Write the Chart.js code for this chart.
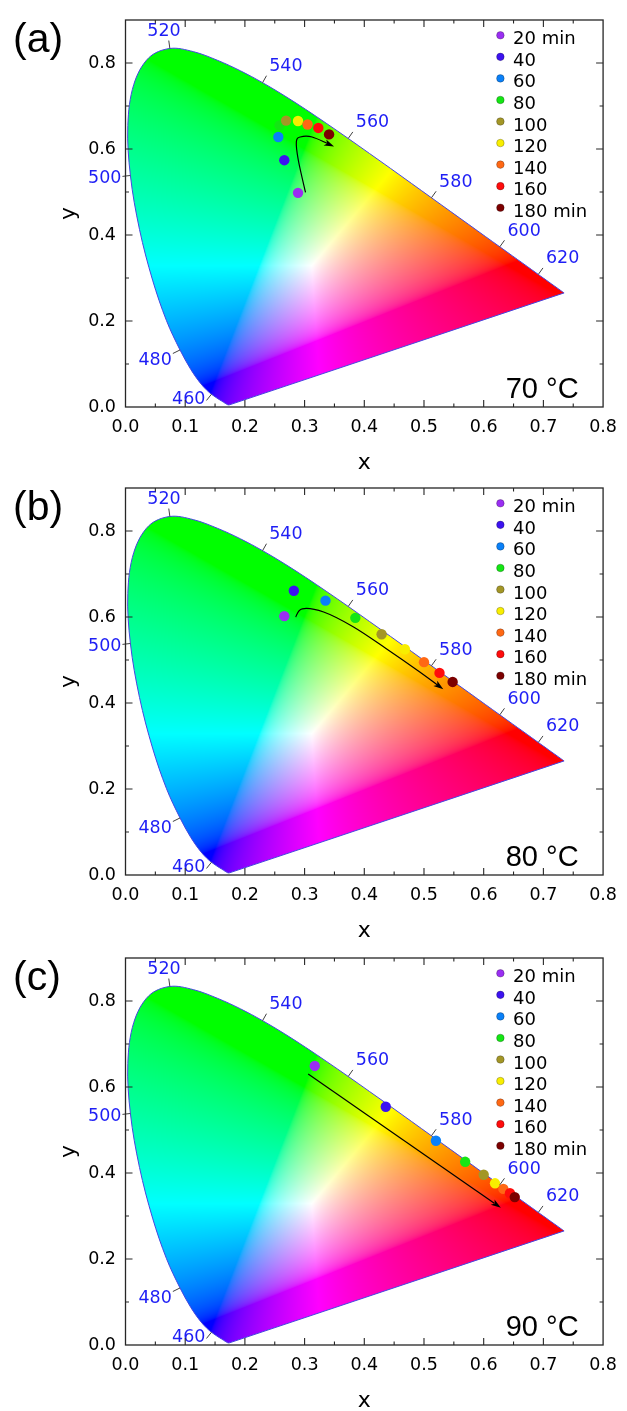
<!DOCTYPE html>
<html><head><meta charset="utf-8">
<script src="https://cdn.jsdelivr.net/npm/chart.js@4/dist/chart.umd.min.js"></script>
<style>
html,body{margin:0;padding:0;background:#fff;overflow:hidden;width:627px;height:1411px;}
.p{position:absolute;left:0;width:627px;height:480px;}
</style></head><body>
<div class="p" style="top:0px"><canvas id="c0"></canvas></div>
<div class="p" style="top:468px"><canvas id="c1"></canvas></div>
<div class="p" style="top:938px"><canvas id="c2"></canvas></div>
<script>
// ---- CIE 1931 spectral locus (5 nm) ----
const locusNm = [380,385,390,395,400,405,410,415,420,425,430,435,440,445,450,455,460,465,470,475,480,485,490,495,500,505,510,515,520,525,530,535,540,545,550,555,560,565,570,575,580,585,590,595,600,605,610,615,620,625,630,635,640,645,650,655,660,665,670,675,680,685,690,695,700];
const locusX = [0.1741,0.1740,0.1738,0.1736,0.1733,0.1730,0.1726,0.1721,0.1714,0.1703,0.1689,0.1669,0.1644,0.1611,0.1566,0.1510,0.1440,0.1355,0.1241,0.1096,0.0913,0.0687,0.0454,0.0235,0.0082,0.0039,0.0139,0.0389,0.0743,0.1142,0.1547,0.1929,0.2296,0.2658,0.3016,0.3373,0.3731,0.4087,0.4441,0.4788,0.5125,0.5448,0.5752,0.6029,0.6270,0.6482,0.6658,0.6801,0.6915,0.7006,0.7079,0.7140,0.7190,0.7230,0.7260,0.7283,0.7300,0.7311,0.7320,0.7327,0.7334,0.7340,0.7344,0.7346,0.7347];
const locusY = [0.0050,0.0050,0.0049,0.0049,0.0048,0.0048,0.0048,0.0048,0.0051,0.0058,0.0069,0.0086,0.0109,0.0138,0.0177,0.0227,0.0297,0.0399,0.0578,0.0868,0.1327,0.2007,0.2950,0.4127,0.5384,0.6548,0.7502,0.8120,0.8338,0.8262,0.8059,0.7816,0.7543,0.7243,0.6923,0.6589,0.6245,0.5896,0.5547,0.5202,0.4866,0.4544,0.4242,0.3965,0.3725,0.3514,0.3340,0.3197,0.3083,0.2993,0.2920,0.2859,0.2809,0.2770,0.2740,0.2717,0.2700,0.2689,0.2680,0.2673,0.2666,0.2660,0.2656,0.2654,0.2653];
const wlMarks = [460,480,500,520,540,560,580,600,620];

// ---- series ----
const timeLabels = ['20 min','40','60','80','100','120','140','160','180 min'];
const timeColors = ['#9a2ef2','#3c12f0','#0a80f8','#14e614','#a39626','#f8ee00','#ff6814','#ff0c0c','#7c0000'];

const xA = [0.289,0.266,0.256,0.258,0.269,0.289,0.305,0.323,0.341];
const yA = [0.498,0.574,0.628,0.655,0.666,0.665,0.657,0.649,0.634];
const xB = [0.266,0.282,0.335,0.385,0.429,0.468,0.500,0.526,0.548];
const yB = [0.602,0.661,0.638,0.598,0.560,0.525,0.495,0.470,0.449];
const xC = [0.317,0.436,0.520,0.569,0.600,0.619,0.633,0.644,0.652];
const yC = [0.649,0.554,0.475,0.426,0.396,0.376,0.363,0.353,0.344];

// arrow guide points (data coordinates)
const arrowAx = [0.3015,0.2895,0.2862,0.2928,0.3126,0.3494];
const arrowAy = [0.4991,0.5738,0.6166,0.6280,0.6280,0.6058];
const arrowBx = [0.2850,0.2961,0.3319,0.3813,0.4363,0.4912,0.5324];
const arrowBy = [0.6000,0.6191,0.6115,0.5772,0.5268,0.4739,0.4318];
const arrowCx = [0.306,0.6288];
const arrowCy = [0.630,0.3191];

const temps = ['70 °C','80 °C','90 °C'];
const panelTags = ['(a)','(b)','(c)'];

// ---- styles ----
const FONT = "'DejaVu Sans', sans-serif";
const FONT2 = "'Liberation Sans', Arial, sans-serif";
const wlColor = '#1e1ef5';
const frameColor = '#262626';
Chart.defaults.font.family = FONT;

function xyToRGB(x, y) {
  if (y <= 1e-4) return [0,0,0];
  const X = x / y, Z = (1 - x - y) / y;
  let r = 3.2406*X - 1.5372 - 0.4986*Z;
  let g = -0.9689*X + 1.8758 + 0.0415*Z;
  let b = 0.0557*X - 0.2040 + 1.0570*Z;
  r = Math.max(r,0); g = Math.max(g,0); b = Math.max(b,0);
  const m = Math.max(r,g,b) || 1;
  const enc = v => v <= 0.0031308 ? 12.92*v : 1.055*Math.pow(v,1/2.4) - 0.055;
  return [enc(r/m)*255, enc(g/m)*255, enc(b/m)*255];
}

function buildFill(chart) {
  const a = chart.chartArea, sx = chart.scales.x, sy = chart.scales.y;
  const dpr = chart.currentDevicePixelRatio || 1;
  const W = Math.max(1, Math.round(a.width*dpr)), H = Math.max(1, Math.round(a.height*dpr));
  const off = document.createElement('canvas'); off.width = W; off.height = H;
  const octx = off.getContext('2d');
  const img = octx.createImageData(W, H);
  const xs = new Float64Array(W), ys = new Float64Array(H);
  for (let i = 0; i < W; i++) xs[i] = sx.getValueForPixel(a.left + (i+0.5)/dpr);
  for (let j = 0; j < H; j++) ys[j] = sy.getValueForPixel(a.top + (j+0.5)/dpr);
  let k = 0;
  for (let j = 0; j < H; j++) {
    for (let i = 0; i < W; i++) {
      const c = xyToRGB(xs[i], ys[j]);
      img.data[k++] = c[0]; img.data[k++] = c[1]; img.data[k++] = c[2]; img.data[k++] = 255;
    }
  }
  octx.putImageData(img, 0, 0);
  return off;
}

// smooth spectral-locus path through the scale pixels (closed by the purple line)
function locusPath(ctx, sx, sy) {
  const P = locusX.map((vx, i) => ({x: sx.getPixelForValue(vx), y: sy.getPixelForValue(locusY[i])}));
  const n = P.length, t = 0.35;
  const cps = P.map((cur, i) => {
    const prev = P[Math.max(0, i-1)], next = P[Math.min(n-1, i+1)];
    const d01 = Math.hypot(cur.x-prev.x, cur.y-prev.y), d12 = Math.hypot(next.x-cur.x, next.y-cur.y);
    const sum = (d01 + d12) || 1;
    const fa = t*d01/sum, fb = t*d12/sum;
    return {px: cur.x - fa*(next.x-prev.x), py: cur.y - fa*(next.y-prev.y),
            nx: cur.x + fb*(next.x-prev.x), ny: cur.y + fb*(next.y-prev.y)};
  });
  ctx.moveTo(P[0].x, P[0].y);
  for (let i = 1; i < n; i++) ctx.bezierCurveTo(cps[i-1].nx, cps[i-1].ny, cps[i].px, cps[i].py, P[i].x, P[i].y);
  ctx.closePath();
}

const cieFill = {
  id: 'cieFill',
  beforeDatasetsDraw(chart) {
    const {ctx, chartArea: a, scales: {x: sx, y: sy}} = chart;
    const key = [a.left,a.top,a.width,a.height,chart.currentDevicePixelRatio].join(',');
    if (chart.$cieKey !== key) { chart.$cieImg = buildFill(chart); chart.$cieKey = key; }
    ctx.save();
    ctx.beginPath();
    locusPath(ctx, sx, sy);
    ctx.clip();
    ctx.drawImage(chart.$cieImg, a.left, a.top, a.width, a.height);
    ctx.restore();
    ctx.save();
    ctx.beginPath();
    locusPath(ctx, sx, sy);
    ctx.strokeStyle = '#4646e0'; ctx.lineWidth = 1;
    ctx.stroke();
    ctx.restore();
  }
};

function clamp1(v) { return Math.max(-1, Math.min(1, v)); }

function overlayPlugin(p) {
  return {
    id: 'overlay' + p.id,
    afterDatasetsDraw(chart) {
      const {ctx, chartArea: a, scales: {x: sx, y: sy}} = chart;
      const pix = i => ({x: sx.getPixelForValue(locusX[i]), y: sy.getPixelForValue(locusY[i])});
      ctx.save();

      // wavelength marks
      ctx.font = '17.5px ' + FONT;
      wlMarks.forEach(nm => {
        const i = locusNm.indexOf(nm);
        const P = pix(i), Pm = pix(i-1), Pp = pix(i+1);
        let tx = Pp.x - Pm.x, ty = Pp.y - Pm.y;
        const L = Math.hypot(tx, ty); tx /= L; ty /= L;
        const nx = ty, ny = -tx;
        const E = {x: P.x + 8*nx, y: P.y + 8*ny};
        ctx.strokeStyle = '#404040'; ctx.lineWidth = 1;
        ctx.beginPath(); ctx.moveTo(P.x, P.y); ctx.lineTo(E.x, E.y); ctx.stroke();
        const txt = String(nm);
        const w = ctx.measureText(txt).width;
        let cx = E.x + clamp1(2*nx)*(w/2 + (nx > 0 ? 3 : 1));
        let cy = E.y + clamp1(2*ny)*(ny < 0 ? 9 : 8);
        cy = Math.min(cy, a.bottom - 7.5);
        ctx.fillStyle = wlColor; ctx.textAlign = 'center'; ctx.textBaseline = 'alphabetic';
        ctx.fillText(txt, cx, cy + 4.5);
      });

      // arrow (Catmull-Rom through guide points)
      const pts = p.ax.map((vx, i) => ({x: sx.getPixelForValue(vx), y: sy.getPixelForValue(p.ay[i])}));
      const n = pts.length;
      const tip = pts[n-1], prev = pts[n-2];
      let dx = tip.x - prev.x, dy = tip.y - prev.y; const dl = Math.hypot(dx, dy); dx /= dl; dy /= dl;
      const headL = 10, headW = 3.3;
      ctx.strokeStyle = '#000'; ctx.lineWidth = 1.2;
      ctx.beginPath();
      ctx.moveTo(pts[0].x, pts[0].y);
      if (n === 2) {
        ctx.lineTo(tip.x - dx*headL*0.8, tip.y - dy*headL*0.8);
      } else {
        for (let i = 0; i < n-1; i++) {
          const p0 = pts[Math.max(0,i-1)], p1 = pts[i], p2 = pts[i+1], p3 = pts[Math.min(n-1,i+2)];
          let e2 = p2;
          if (i === n-2) e2 = {x: p2.x - dx*headL*0.6, y: p2.y - dy*headL*0.6};
          ctx.bezierCurveTo(p1.x + (p2.x-p0.x)/6, p1.y + (p2.y-p0.y)/6,
                            p2.x - (p3.x-p1.x)/6, p2.y - (p3.y-p1.y)/6, e2.x, e2.y);
        }
      }
      ctx.stroke();
      ctx.fillStyle = '#000';
      ctx.beginPath();
      ctx.moveTo(tip.x, tip.y);
      ctx.lineTo(tip.x - dx*headL - dy*headW, tip.y - dy*headL + dx*headW);
      ctx.lineTo(tip.x - dx*headL*0.75, tip.y - dy*headL*0.75);
      ctx.lineTo(tip.x - dx*headL + dy*headW, tip.y - dy*headL - dx*headW);
      ctx.closePath(); ctx.fill();

      // frame + inward ticks (major & minor)
      ctx.strokeStyle = frameColor; ctx.lineWidth = 1.3;
      ctx.strokeRect(a.left, a.top, a.width, a.height);
      ctx.lineWidth = 1.1;
      ctx.beginPath();
      for (let k = 1; k < 16; k++) {
        const v = k*0.05, px = sx.getPixelForValue(v), len = (k % 2 === 0) ? 7 : 3.5;
        ctx.moveTo(px, a.bottom); ctx.lineTo(px, a.bottom - len);
        ctx.moveTo(px, a.top); ctx.lineTo(px, a.top + len);
      }
      for (let k = 1; k < 9; k++) {
        const v = k*0.1, py = sy.getPixelForValue(v), len = (k % 2 === 0) ? 7 : 3.5;
        ctx.moveTo(a.left, py); ctx.lineTo(a.left + len, py);
        ctx.moveTo(a.right, py); ctx.lineTo(a.right - len, py);
      }
      ctx.stroke();

      // legend (from datasets)
      const items = chart.data.datasets.filter(d => d.isTime);
      ctx.font = '18px ' + FONT;
      ctx.textAlign = 'left'; ctx.textBaseline = 'alphabetic';
      items.forEach((d, i) => {
        const my = a.top + 15.3 + 21.55*i, mx = a.right - 102.7;
        ctx.beginPath(); ctx.arc(mx, my, 3.8, 0, Math.PI*2);
        ctx.fillStyle = d.backgroundColor; ctx.fill();
        ctx.strokeStyle = 'rgba(0,0,0,0.35)'; ctx.lineWidth = 0.7; ctx.stroke();
        ctx.fillStyle = '#000';
        ctx.fillText(d.label, a.right - 90, my + 9);
      });

      // temperature and panel tag
      ctx.font = '29px ' + FONT2; ctx.textAlign = 'right'; ctx.fillStyle = '#000';
      ctx.fillText(p.temp, a.right - 24.5, a.bottom - 9.3);
      ctx.font = '41px ' + FONT2; ctx.textAlign = 'left';
      ctx.fillText(p.tag, 13, 51.6);
      ctx.restore();
    }
  };
}

function makeChart(p) {
  const datasets = timeLabels.map((lab, i) => ({
    label: lab, isTime: true,
    data: [{x: p.xs[i], y: p.ys[i]}],
    backgroundColor: timeColors[i], borderColor: timeColors[i], borderWidth: 0,
    pointRadius: 5.2, pointHoverRadius: 5.2, order: 9 - i
  }));

  new Chart(document.getElementById(p.id), {
    type: 'scatter',
    data: {datasets},
    options: {
      responsive: true, maintainAspectRatio: false, animation: false, events: [],
      layout: {padding: {left: 0, right: 17, top: 14, bottom: 0}},
      plugins: {legend: {display: false}, tooltip: {enabled: false}},
      scales: {
        x: {
          type: 'linear', position: 'bottom', min: 0, max: 0.8,
          grid: {display: false, drawTicks: false}, border: {display: false},
          ticks: {stepSize: 0.1, padding: 10, color: '#000', font: {family: FONT, size: 17.5},
                  autoSkip: false, maxRotation: 0, includeBounds: false, callback: v => Number(v).toFixed(1)},
          title: {display: true, text: 'x', color: '#000', font: {family: FONT, size: 22}, padding: {top: 0, bottom: 3.5}},
          afterFit: s => { s.height = 73; }
        },
        y: {
          type: 'linear', position: 'left', min: 0, max: 0.9,
          grid: {display: false, drawTicks: false}, border: {display: false},
          ticks: {stepSize: 0.2, padding: 9.5, color: '#000', font: {family: FONT, size: 17.5},
                  autoSkip: false, includeBounds: false, callback: v => Number(v).toFixed(1)},
          title: {display: true, text: 'y', color: '#000', font: {family: FONT, size: 22}, padding: {top: 56.5, bottom: 0}},
          afterFit: s => { s.width = 125.5; }
        }
      }
    },
    plugins: [cieFill, overlayPlugin(p)]
  });
}

[
  {id: 'c0', xs: xA, ys: yA, ax: arrowAx, ay: arrowAy, temp: temps[0], tag: panelTags[0]},
  {id: 'c1', xs: xB, ys: yB, ax: arrowBx, ay: arrowBy, temp: temps[1], tag: panelTags[1]},
  {id: 'c2', xs: xC, ys: yC, ax: arrowCx, ay: arrowCy, temp: temps[2], tag: panelTags[2]}
].forEach(makeChart);
</script>
</body></html>
